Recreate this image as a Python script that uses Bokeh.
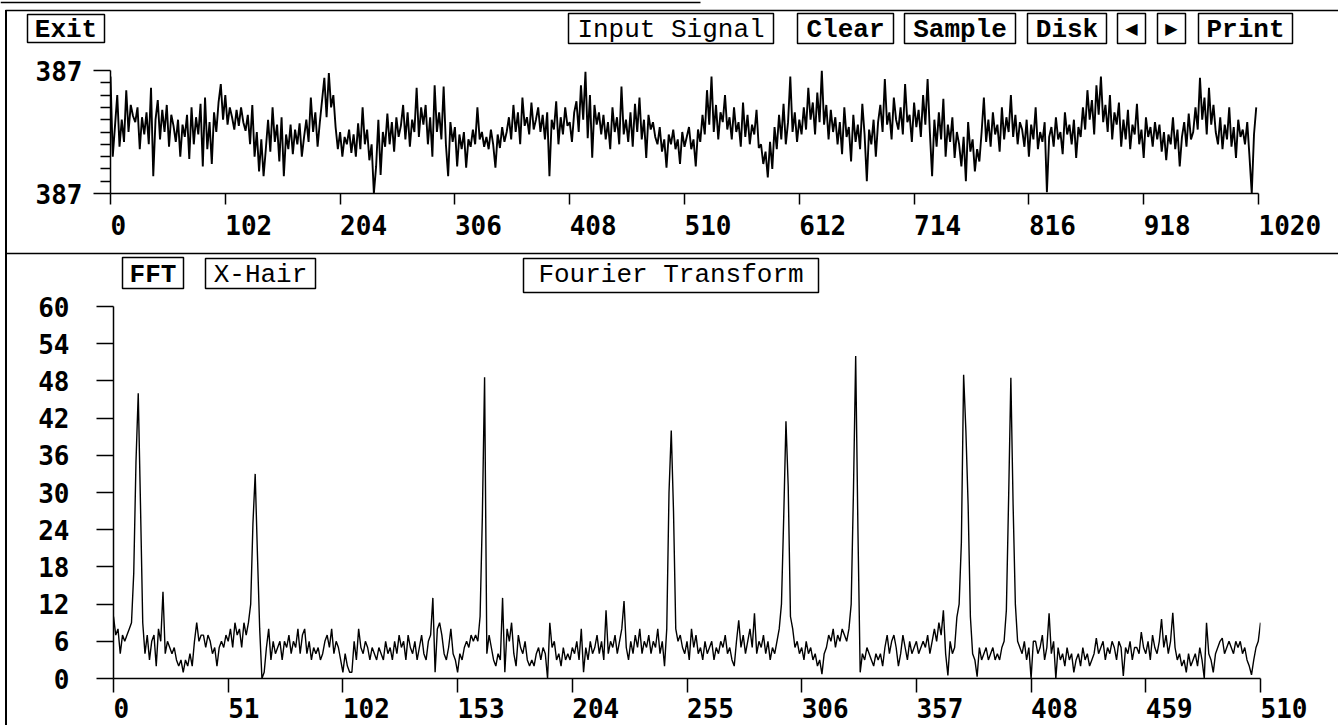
from bokeh.plotting import figure
from bokeh.layouts import column
from bokeh.models import Range1d, FixedTicker, ColumnDataSource
from bokeh.core.properties import value
from bokeh.embed import file_html
from bokeh.resources import INLINE

# ---------------- data ----------------
# Input signal, position inside the axis span (0 = bottom "387", 100 = top "387"),
# one value every 2 samples.
signal_step = 2
signal_part1 = [95, 30, 55, 80, 38, 60, 42, 84, 50, 72, 63,
                58, 70, 36, 62, 48, 66, 40, 86, 14, 60, 76, 44, 68, 50, 72, 38, 64, 55,
                42, 60, 30, 56, 46, 64, 28, 70, 40, 62, 48, 73, 22, 78, 36, 58, 24, 66, 50,
                74, 89, 60, 80, 56, 70, 62, 52, 68, 55, 70, 58, 51,
                64, 40, 72, 30, 50, 18, 44, 14, 36, 60, 34, 70, 42, 56, 26, 62, 14,
                48, 36, 56, 32, 52, 40, 57, 30, 46, 60, 42, 78, 50, 66, 38, 58, 76,
                94, 62, 98, 70, 80, 54, 36, 50, 30, 46, 40, 52, 33,
                48, 30, 57, 36, 70, 40, 52, 27, 40, 0, 22]
signal_part2 = [60, 15, 50, 38, 65, 40, 58, 34, 62, 46, 55,
                72, 44, 66, 38, 60, 50, 86, 46, 70,
                56, 72, 40, 62, 30, 88, 50, 66, 44, 87, 40, 14, 58,
                42, 54, 22, 48, 36, 50, 21, 44, 38, 52,
                40, 70, 44, 50, 38, 46, 36, 52, 40, 21, 48, 37, 54, 42, 50,
                62, 44, 72, 50, 66, 40, 78, 55, 62, 48, 74, 52, 60,
                70, 50, 64, 44, 66, 14, 60, 52, 75, 40, 62, 48, 70, 55, 58, 42, 66,
                75, 50, 88, 60, 99, 45, 80, 29, 72, 56, 66, 48]
signal_part3 = [64, 44, 58, 36, 70, 50, 62, 40, 87, 48, 60, 42,
                66, 38, 73, 50, 78, 44, 60, 29, 64, 52, 58,
                46, 40, 54, 34, 44, 21, 48, 40, 52, 36, 44, 24, 50, 38, 46, 54, 36, 44, 22, 52, 42,
                64, 48, 84, 56, 95, 50, 72, 44, 66, 58, 80, 52,
                62, 44, 70, 50, 58, 38, 74, 46, 64, 40, 56, 48, 68, 37,
                40, 24, 34, 13, 42, 20,
                54, 36, 64, 44, 73, 40, 58, 95, 50, 66, 42, 60, 48,
                70, 52, 86, 60, 74, 48, 82, 58, 100, 56, 72, 44, 68, 50,
                62, 40, 58, 32, 70, 46, 54, 26, 64, 42, 56, 36, 73, 48, 10, 52, 40, 60, 30, 58]
signal_part4 = [72, 50, 93, 56, 66, 44, 78, 60, 52, 70, 48, 89, 58, 64, 42, 74, 54, 68, 46, 80, 56, 93, 50,
                14, 60, 38, 66, 44, 77, 30, 56, 42, 62, 29, 50,
                40, 22, 46, 10, 58, 34, 44, 18, 36, 26,
                50, 78, 42, 60, 38, 66, 48, 56, 34, 70, 44, 62, 50, 80, 46, 64, 40, 58,
                52, 38, 60, 30, 56, 44, 70, 36, 50, 42, 58, 1, 46, 54, 38, 62, 44, 50, 32, 66,
                48, 56, 40, 60, 29, 54, 46,
                70, 52, 84, 60, 76, 48, 88, 64, 95, 58, 72, 50, 80, 44, 66, 56, 74, 38,
                60, 44, 68, 36, 56, 48, 73, 40, 52, 29, 62, 46, 54, 38, 58,
                44, 56, 34, 50, 27, 48, 40, 62, 36, 52, 22, 46, 58, 38, 65, 44, 50,
                70, 52, 94, 60, 78, 48, 86, 56, 72,
                50, 40, 62, 36, 56, 44, 70, 38, 54, 29, 60, 46, 52, 40, 58,
                30, 0, 48, 70]

# Fourier transform magnitude, one value per bin (0..510)
fft_part1 = [10, 7, 8, 4, 7, 6, 7, 8, 9, 17,
             35, 46, 28, 9, 4, 7, 3, 6, 7, 2,
             8, 6, 14, 4, 6, 5, 4, 5, 3, 2,
             3, 1, 3, 2, 4, 2, 6, 9, 6, 7,
             7, 5, 7, 6, 4, 5, 2, 5, 6, 5,
             7, 6, 8, 5, 9, 7, 8, 5, 9, 7,
             9, 12, 25, 33, 20, 8, 0, 1, 5, 8,
             3, 6, 4, 5, 6, 3, 6, 5, 7, 4,
             6, 5, 8, 4, 7, 8, 4, 6, 3, 5,
             4, 5, 3, 4, 6, 7, 5, 8, 4, 6,
             5, 3, 1, 4, 2, 1, 1, 6, 3, 8,
             5, 4, 6, 5, 3, 5, 4, 3, 5, 4,
             3, 6, 4, 5, 3, 6, 4, 7, 5, 6]
fft_part2 = [3, 7, 5, 4, 6, 3, 5, 7, 4, 3,
             6, 7, 13, 1, 8, 9, 7, 4, 3, 5,
             8, 4, 3, 1, 4, 3, 5, 6, 5, 7,
             6, 7, 6, 10, 26, 48.6, 4, 7, 5, 3,
             2, 4, 3, 13, 1, 8, 6, 9, 4, 2,
             7, 5, 4, 6, 3, 2, 3, 2, 4, 5,
             3, 5, 4, 0, 9, 5, 6, 3, 4, 2,
             5, 3, 4, 3, 5, 4, 6, 3, 8, 1,
             5, 3, 6, 4, 5, 7, 4, 6, 3, 11,
             4, 6, 5, 7, 4, 6, 8, 12.5, 5, 3,
             6, 4, 7, 5, 8, 4, 6, 5, 7, 4,
             6, 5, 8, 4, 6, 2, 8, 30, 40, 27,
             8, 6, 7, 5, 4, 6, 3, 8, 5, 7]
fft_part3 = [4, 5, 3, 6, 4, 5, 6, 3, 5, 4,
             6, 5, 7, 4, 5, 3, 2, 6, 9.4, 5,
             7, 4, 6, 8, 5, 10.5, 4, 6, 5, 7,
             4, 6, 3, 5, 4, 6, 8, 12, 26, 41.5,
             31, 10, 8, 5, 6, 4, 5, 3, 6, 4,
             5, 3, 4, 2, 3, 0.7, 4, 5, 7, 6,
             8, 5, 7, 6, 8, 7, 6, 8, 12, 30,
             52, 24, 1, 4, 3, 5, 4, 3, 2, 4,
             3, 4, 2, 5, 7, 4, 6, 7, 5, 2,
             4, 7, 5, 3, 6, 4, 5, 6, 4, 5,
             6, 5, 7, 4, 6, 8, 6, 9, 7, 11,
             4, 0.5, 6, 4, 5, 9.9, 12, 22, 49, 40,
             28, 10, 4, 3, 0.3, 5, 3, 4, 5, 3]
fft_part4 = [4, 5, 3, 4, 3, 5, 6, 11, 29, 48.5,
             28, 12, 6, 5, 4, 6, 3, 5, 0, 6,
             6, 4, 5, 7, 3, 5, 10.5, 4, 6, 0,
             5, 3, 4, 2, 5, 3, 4, 1, 3, 4,
             2, 5, 3, 4, 2, 3, 4, 6.5, 4, 5,
             6, 3, 5, 4, 6, 5, 3, 6, 5, 0.4,
             5, 4, 6, 3, 5, 5, 4, 7.5, 5, 4,
             6, 3, 7, 5, 4, 6, 9.6, 5, 7, 4,
             6, 10.6, 5, 3, 4, 2, 3, 1, 4, 2,
             3, 4, 2, 5, 3, 0, 9, 4, 3, 1,
             4, 5, 6, 6.5, 4, 5, 6, 5, 4, 6,
             5, 6, 4, 5, 3, 2, 0.6, 3, 5, 6, 9]

signal_x_ticks = [0, 102, 204, 306, 408, 510, 612, 714, 816, 918, 1020]
signal_y_ticks = [0, 100]
signal_y_minor = [10, 20, 30, 40, 50, 60, 70, 80, 90]
signal_y_labels = ["387", "387"]
fft_x_ticks = [0, 51, 102, 153, 204, 255, 306, 357, 408, 459, 510]
fft_y_ticks = [0, 6, 12, 18, 24, 30, 36, 42, 48, 54, 60]

signal_values = signal_part1 + signal_part2 + signal_part3 + signal_part4
signal_x = [i * signal_step for i in range(len(signal_values))]
fft_values = fft_part1 + fft_part2 + fft_part3 + fft_part4
fft_x = list(range(len(fft_values)))

# ---------------- layout (page pixels) ----------------
W = 1338
NUM_FONT = "DejaVu Sans Mono"
BTN_FONT = "Liberation Mono"

# button boxes: text, left, right, top, bottom, weight  (page pixels)
top_buttons = [
    ("Exit", 27, 104, 14, 42, "bold"),
    ("Input Signal", 568, 773, 13, 43, "normal"),
    ("Clear", 797, 893, 13, 43, "bold"),
    ("Sample", 904, 1015, 13, 43, "bold"),
    ("Disk", 1027, 1106, 13, 43, "bold"),
    ("Print", 1198, 1292, 13, 43, "bold"),
]
top_arrows = [("\u25c0", 1117, 1145, 13, 43), ("\u25b6", 1157, 1185, 13, 43)]
TOP_BTN_MID = 29
bottom_buttons = [
    ("FFT", 122, 183, 257, 288, "bold"),
    ("X-Hair", 205, 315, 258, 288, "normal"),
    ("Fourier Transform", 523, 818, 258, 292, "normal"),
]
BOT_BTN_MID = 274

# vertical bands of the page
A0, A1 = 0, 54        # top button strip
P0, P1 = 54, 209      # input signal plot
B0, B1 = 209, 294     # signal tick labels, separator, FFT buttons
Q0, Q1 = 294, 693     # FFT plot
C0, C1 = 693, 725     # FFT tick labels

# plot frames (page pixels)
S_FL, S_FR, S_FT, S_FB = 110, 1258, 70, 193
F_FL, F_FR, F_FT, F_FB = 113, 1260, 306, 678


def make_strip(y0, y1):
    p = figure(width=W, height=y1 - y0, output_backend="svg", toolbar_location=None,
               x_range=Range1d(0, W), y_range=Range1d(y1, y0),
               x_axis_location=None, y_axis_location=None,
               min_border_left=0, min_border_right=0, min_border_top=0, min_border_bottom=0,
               background_fill_color=None, border_fill_color=None, frame_align=False)
    p.outline_line_color = None
    p.grid.visible = False
    return p


def draw_buttons(p, buttons, mid, size="26px"):
    src = ColumnDataSource(dict(
        l=[b[1] for b in buttons], r=[b[2] for b in buttons],
        t=[b[3] for b in buttons], b=[b[4] for b in buttons],
        cx=[(b[1] + b[2]) / 2 for b in buttons], cy=[mid] * len(buttons),
        text=[b[0] for b in buttons], style=[b[5] for b in buttons]))
    p.quad(left="l", right="r", top="t", bottom="b", source=src,
           fill_color=None, line_color="black", line_width=1.5)
    p.text(x="cx", y="cy", text="text", source=src, text_align="center",
           text_baseline="middle", text_font=value(BTN_FONT),
           text_font_style="style", text_font_size=value(size), text_color="black")


def make_plot(y0, y1, fl, fr, ft, fb, xr, yr):
    p = figure(width=W, height=y1 - y0, output_backend="svg", toolbar_location=None,
               x_range=Range1d(*xr), y_range=Range1d(*yr),
               min_border_left=fl, min_border_right=W - fr,
               min_border_top=ft - y0, min_border_bottom=y1 - fb,
               background_fill_color="white", border_fill_color=None, frame_align=False)
    p.outline_line_color = None
    p.xgrid.visible = False
    p.ygrid.visible = False
    for ax in (p.xaxis[0], p.yaxis[0]):
        ax.axis_line_color = "black"
        ax.axis_line_width = 1.5
        ax.major_tick_line_color = "black"
        ax.major_tick_line_width = 1.5
        ax.minor_tick_line_color = "black"
        ax.minor_tick_line_width = 1.5
        ax.major_tick_in = 0
        ax.minor_tick_in = 0
        ax.major_label_text_font = NUM_FONT
        ax.major_label_text_font_style = "bold"
        ax.major_label_text_font_size = "26px"
        ax.major_label_text_color = "black"
    xa = p.xaxis[0]
    xa.major_label_text_font_size = "0px"
    xa.major_label_standoff = 0
    return p


def tick_labels(p, ticks, range_name, fl, fr, xr, y):
    k = (fr - fl) / (xr[1] - xr[0])
    p.extra_x_ranges = {range_name: Range1d(xr[0] - fl / k, xr[0] + (W - fl) / k)}
    p.text(x=ticks, y=[y] * len(ticks), text=[str(t) for t in ticks],
           x_range_name=range_name, text_align="left", text_baseline="middle",
           text_font=value(NUM_FONT), text_font_style="bold",
           text_font_size=value("26px"), text_color="black")


# ---- strip A: window top and the input-signal buttons ----
strip_a = make_strip(A0, A1)
strip_a.line([0, 700], [2, 2], line_color="black", line_width=1.5)
strip_a.line([5, W], [10, 10], line_color="black", line_width=1.5)
draw_buttons(strip_a, top_buttons, TOP_BTN_MID)
strip_a.quad(left=[a[1] for a in top_arrows], right=[a[2] for a in top_arrows],
             top=[a[3] for a in top_arrows], bottom=[a[4] for a in top_arrows],
             fill_color=None, line_color="black", line_width=1.5)
strip_a.text(x=[(a[1] + a[2]) / 2 for a in top_arrows], y=[28, 28],
             text=[a[0] for a in top_arrows], text_align="center", text_baseline="middle",
             text_font=value("DejaVu Sans"), text_font_size=value("16px"), text_color="black")

# ---- input signal plot ----
sig = make_plot(P0, P1, S_FL, S_FR, S_FT, S_FB, (0, 1020), (0, 100))
sig.line(signal_x, signal_values, line_color="black", line_width=1.9)
xa = sig.xaxis[0]
xa.ticker = FixedTicker(ticks=signal_x_ticks, minor_ticks=[])
xa.major_label_overrides = {t: "" for t in signal_x_ticks}
xa.major_tick_out = 11
xa.minor_tick_out = 0
ya = sig.yaxis[0]
ya.ticker = FixedTicker(ticks=signal_y_ticks, minor_ticks=signal_y_minor)
ya.major_label_overrides = dict(zip(signal_y_ticks, signal_y_labels))
ya.major_tick_out = 17
ya.minor_tick_out = 10
ya.major_label_standoff = 11

# ---- strip B: signal tick labels, separator, FFT buttons ----
strip_b = make_strip(B0, B1)
tick_labels(strip_b, signal_x_ticks, "sig", S_FL, S_FR, (0, 1020), 224)
strip_b.line([5, W], [253, 253], line_color="black", line_width=1.5)
draw_buttons(strip_b, bottom_buttons, BOT_BTN_MID)

# ---- FFT plot ----
fft = make_plot(Q0, Q1, F_FL, F_FR, F_FT, F_FB, (0, 510), (0, 60))
fft.line(fft_x, fft_values, line_color="black", line_width=1.4)
xb = fft.xaxis[0]
xb.ticker = FixedTicker(ticks=fft_x_ticks, minor_ticks=[])
xb.major_label_overrides = {t: "" for t in fft_x_ticks}
xb.major_tick_out = 14
xb.minor_tick_out = 0
yb = fft.yaxis[0]
yb.ticker = FixedTicker(ticks=fft_y_ticks, minor_ticks=[])
yb.major_tick_out = 17
yb.minor_tick_out = 0
yb.major_label_standoff = 27

# ---- strip C: FFT tick labels ----
strip_c = make_strip(C0, C1)
tick_labels(strip_c, fft_x_ticks, "fft", F_FL, F_FR, (0, 510), 707)

layout = column(strip_a, sig, strip_b, fft, strip_c, spacing=0,
                styles={"background-image": "linear-gradient(#000, #000)",
                        "background-repeat": "no-repeat",
                        "background-size": "2px 100%",
                        "background-position": "5px 10px"})
open("out.html", "w").write(file_html(layout, INLINE))
